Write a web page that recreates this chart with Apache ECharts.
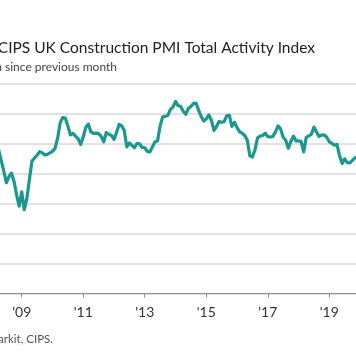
<!DOCTYPE html>
<html><head><meta charset="utf-8">
<script src="https://cdn.jsdelivr.net/npm/echarts@6/dist/echarts.min.js"></script>
<style>html,body{margin:0;padding:0;background:#fff}#c{width:356px;height:364px}</style>
</head><body><div id="c"></div>
<script>
// Monthly index values (series starts April 2008)
const startYear = 2008, startMonth = 4;
const v2008 = [48, 44.5, 41, 37, 39, 40.2, 37.5, 33, 29.2];
const v2009 = [34, 28, 31.7, 38, 44.3, 45.3, 46.2, 47.4, 47, 46.3, 46.5, 47];
const v2010 = [47.5, 48.5, 51.8, 57, 58.8, 58.6, 56, 53, 53.5, 52.6, 51.7, 49.8];
const v2011 = [52.3, 55.5, 56.6, 54, 53.5, 53.6, 53.4, 52.5, 50.7, 53.8, 53.2, 52.8];
const v2012 = [51.5, 53.8, 56.5, 56, 54.5, 49, 50.3, 49.5, 48.7, 50.2, 50, 48.8];
const v2013 = [48.7, 47.5, 47.3, 49, 50.6, 51, 56, 59, 59.2, 59.5, 61.5, 62.3];
const v2014 = [64.2, 62.8, 62.5, 60.9, 59.9, 61.8, 62.5, 63.5, 63.6, 61.3, 59.2, 57.6];
const v2015 = [58.3, 59.7, 57.9, 54.5, 55.8, 57.5, 57.2, 57.4, 59.4, 59.5, 55.8, 57.2];
const v2016 = [55.5, 54, 53.6, 52.8, 51.2, 46, 45.6, 48, 52, 52.6, 52.8, 53.6];
const v2017 = [52.4, 52.3, 52.5, 54, 56, 55, 52.2, 51.2, 48.5, 50.8, 52.6, 51];
const v2018 = [51, 50.8, 47.3, 52.2, 52.7, 53.2, 55.6, 54, 52.5, 52.9, 53, 52.2];
const v2019 = [50.7, 50.2, 49.5, 49.8, 46, 43.4, 45, 43.7, 43.6, 44.5, 45.3, 45.5];

const tickYears = [2009, 2011, 2013, 2015, 2017, 2019];
const tickLabels = ["'09", "'11", "'13", "'15", "'17", "'19"];

const titleText = 'IHS Markit/CIPS UK Construction PMI Total Activity Index';
const subtitleText = 'Index, above 50 = expansion since previous month';
const sourceText = 'Source: IHS Markit, CIPS.';

const values = [].concat(v2008, v2009, v2010, v2011, v2012, v2013, v2014, v2015, v2016, v2017, v2018, v2019);
const seriesData = values.map((v, i) => [startYear + (startMonth - 1 + i) / 12, v]);

const FONT = 'Lato';
const chart = echarts.init(document.getElementById('c'), null, {renderer: 'canvas'});
chart.setOption({
  animation: false,
  backgroundColor: '#ffffff',
  grid: {left: 0, right: 0, top: 84, bottom: 70.5, containLabel: false, outerBoundsMode: 'none'},
  xAxis: {
    type: 'value',
    min: 2008.2945,
    max: 2019.868,
    axisLine: {show: true, lineStyle: {color: '#8f8f8f', width: 1}},
    axisTick: {show: true, customValues: tickYears, length: 4, lineStyle: {color: '#8f8f8f', width: 1}},
    axisLabel: {
      customValues: tickYears,
      formatter: (val) => tickLabels[tickYears.indexOf(Math.round(val))] || '',
      color: '#333', fontSize: 14, fontFamily: FONT, margin: 12
    },
    splitLine: {show: false}
  },
  yAxis: {
    type: 'value', min: 0, max: 70, interval: 10,
    axisLabel: {show: false},
    axisLine: {show: false},
    axisTick: {show: false},
    splitLine: {show: true, lineStyle: {color: '#d9d9d9', width: 1.5}}
  },
  series: [{
    type: 'line',
    data: seriesData,
    showSymbol: false,
    smooth: false,
    clip: true,
    lineStyle: {color: '#1a9890', width: 3.2, join: 'round', cap: 'round'}
  }],
  graphic: [
    {type: 'text', x: 315, y: 48, style: {text: titleText, textAlign: 'right', textVerticalAlign: 'middle', fill: '#222', font: '15.5px ' + FONT}},
    {type: 'text', x: 117, y: 67, style: {text: subtitleText, textAlign: 'right', textVerticalAlign: 'middle', fill: '#444', font: '12px ' + FONT}},
    {type: 'text', x: 53, y: 339, style: {text: sourceText, textAlign: 'right', textVerticalAlign: 'middle', fill: '#555', font: '11.5px ' + FONT}}
  ]
});
</script></body></html>
